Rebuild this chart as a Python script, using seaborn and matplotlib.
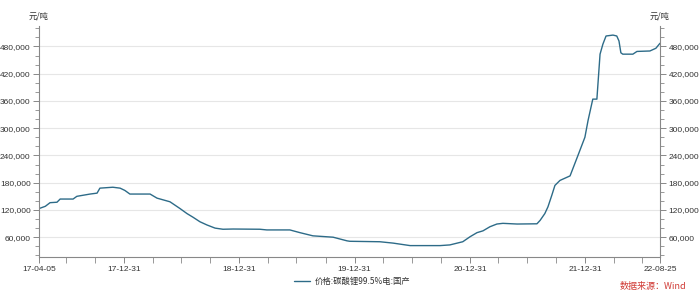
import matplotlib
matplotlib.use("Agg")
import matplotlib.pyplot as plt
import matplotlib.dates as mdates
from matplotlib.ticker import FixedLocator, MultipleLocator, FuncFormatter
import seaborn as sns
import pandas as pd

dates = ["2017-04-05", "2017-04-25", "2017-05-10", "2017-06-01", "2017-06-11", "2017-07-22",
         "2017-08-03", "2017-09-14", "2017-10-06", "2017-10-15", "2017-11-25", "2017-12-18",
         "2018-01-02", "2018-01-18", "2018-03-23", "2018-04-14", "2018-05-25", "2018-06-26",
         "2018-07-18", "2018-08-06", "2018-08-28", "2018-09-19", "2018-10-15", "2018-11-09",
         "2018-12-11", "2019-03-06", "2019-03-28", "2019-06-09", "2019-07-11", "2019-08-21",
         "2019-10-24", "2019-12-07", "2019-12-16", "2020-03-20", "2020-05-01", "2020-06-24",
         "2020-09-27", "2020-10-28", "2020-12-08", "2020-12-31", "2021-01-22", "2021-02-10",
         "2021-03-04", "2021-03-26", "2021-04-14", "2021-05-29", "2021-07-31", "2021-08-10",
         "2021-08-25", "2021-09-04", "2021-09-16", "2021-09-26", "2021-10-12", "2021-11-13",
         "2021-12-08", "2021-12-30", "2022-01-09", "2022-01-24", "2022-02-06", "2022-02-16",
         "2022-02-25", "2022-03-07", "2022-03-29", "2022-04-10", "2022-04-17", "2022-04-23",
         "2022-04-29", "2022-05-31", "2022-06-13", "2022-07-24", "2022-08-12", "2022-08-25"]
prices = [123000, 128000, 136000, 137000, 144000, 144000,
          150000, 155000, 157000, 168000, 170000, 168000,
          163000, 155000, 155000, 146000, 138000, 123000,
          112000, 104000, 94000, 87000, 80000, 77500,
          78000, 77500, 76000, 76000, 70000, 63000,
          60000, 52000, 51000, 50000, 47000, 41500,
          41500, 43000, 50000, 61000, 70000, 74000,
          83000, 89000, 90500, 89000, 89500, 97000,
          112000, 127000, 152000, 174000, 185000, 195000,
          240000, 280000, 317000, 364000, 364000, 463000,
          485000, 503000, 505000, 503000, 492000, 466000,
          463000, 463000, 469000, 470000, 476000, 487000]
series_name = "价格:碳酸锂99.5%电:国产"
major_dates = ["2017-04-05", "2017-12-31", "2018-12-31", "2019-12-31", "2020-12-31", "2021-12-31", "2022-08-25"]
major_labels = ["17-04-05", "17-12-31", "18-12-31", "19-12-31", "20-12-31", "21-12-31", "22-08-25"]
unit_label = "元/吨"
source_text = "数据来源：Wind"

df = pd.DataFrame({"date": pd.to_datetime(dates), "price": prices})

sns.set_theme(style="white")
plt.rcParams['font.family'] = ['Liberation Sans', 'Noto Sans CJK SC', 'DejaVu Sans']

fig = plt.figure(figsize=(7.0, 2.94), dpi=100)
ax = fig.add_axes([39/700, 1-256.5/294, (660-39)/700, (256.5-26)/294])

sns.lineplot(data=df, x="date", y="price", ax=ax, color="#2d6b88", linewidth=1.0, label=series_name)

ax.set_xlim(pd.Timestamp("2017-04-05"), pd.Timestamp("2022-08-25"))
ax.set_ylim(17500, 525000)

major_locs = [mdates.date2num(pd.Timestamp(d)) for d in major_dates]
ax.xaxis.set_major_locator(FixedLocator(major_locs))
ax.set_xticklabels(major_labels)
ax.xaxis.set_minor_locator(mdates.MonthLocator(bymonth=[3, 6, 9, 12], bymonthday=-1) if False else FixedLocator(
    [mdates.date2num(d) for d in pd.date_range("2017-06-30", "2022-06-30", freq="QE")]))

ax.yaxis.set_major_locator(FixedLocator(list(range(60000, 500000, 60000))))
ax.yaxis.set_minor_locator(MultipleLocator(20000))
ax.yaxis.set_major_formatter(FuncFormatter(lambda v, p: f"{int(v):,}"))

ax.grid(axis="y", which="major", color="#e6e6e6", linewidth=0.8)
ax.set_xlabel("")
ax.set_ylabel("")

for s in ["top"]:
    ax.spines[s].set_visible(False)
for s in ["left", "right", "bottom"]:
    ax.spines[s].set_visible(True)
    ax.spines[s].set_color("#888888")
    ax.spines[s].set_linewidth(0.8)

ax.tick_params(axis="y", which="both", left=True, right=True, labelleft=True, labelright=True,
               direction="out", colors="#888888", labelcolor="#333333", labelsize=6, pad=2)
ax.tick_params(axis="y", which="major", length=4, width=0.7)
ax.tick_params(axis="y", which="minor", length=3, width=0.6)
ax.tick_params(axis="x", which="both", bottom=True, direction="out", colors="#888888",
               labelcolor="#333333", labelsize=6, pad=3)
ax.tick_params(axis="x", which="major", length=4, width=0.7)
ax.tick_params(axis="x", which="minor", length=4, width=0.6)

ax.text(0.0, 1.0 + 10/230, unit_label, transform=ax.transAxes, ha="center", va="center",
        fontsize=6, color="#333333", family=['Noto Sans CJK SC', 'DejaVu Sans'])
ax.text(1.0, 1.0 + 10/230, unit_label, transform=ax.transAxes, ha="center", va="center",
        fontsize=6, color="#333333", family=['Noto Sans CJK SC', 'DejaVu Sans'])

leg = ax.legend(loc="center", bbox_to_anchor=(352/700, 1-281/294), bbox_transform=fig.transFigure,
                frameon=False, fontsize=6, handlelength=2.0, handletextpad=0.5,
                prop={"family": ['Noto Sans CJK SC', 'DejaVu Sans'], "size": 6})
for t in leg.get_texts():
    t.set_color("#333333")

fig.text(686/700, 1-287/294, source_text, ha="right", va="center", fontsize=6.5, color="#d03a35",
         family=['Noto Sans CJK SC', 'DejaVu Sans'])

fig.savefig("out.png", dpi=100, facecolor="white")
